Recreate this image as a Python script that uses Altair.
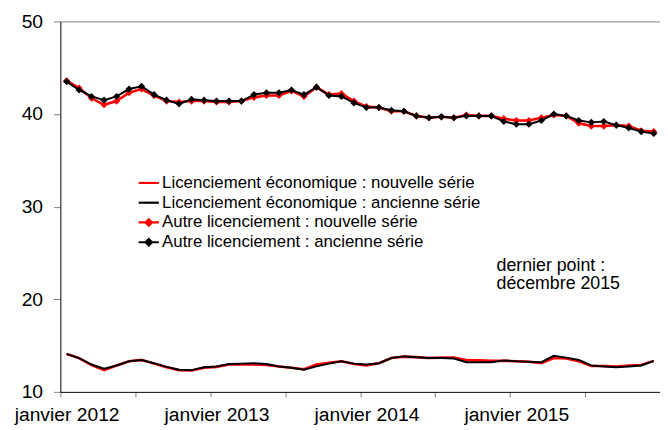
import json
import altair as alt
import pandas as pd

# ---- data ----
mois_noms = ["janvier", "février", "mars", "avril", "mai", "juin", "juillet",
             "août", "septembre", "octobre", "novembre", "décembre"]
annees = [2012, 2013, 2014, 2015]
mois = [f"{m} {a}" for a in annees for m in mois_noms]  # 48 months

series = [
    "Licenciement économique : nouvelle série",
    "Licenciement économique : ancienne série",
    "Autre licenciement : nouvelle série",
    "Autre licenciement : ancienne série",
]
couleurs = ["#ff0000", "#000000", "#ff0000", "#000000"]

eco_nouvelle = [14.1, 13.65, 12.9, 12.35, 12.85, 13.3, 13.45, 13.05, 12.65, 12.35, 12.3, 12.6,
                12.7, 12.95, 12.95, 12.95, 12.9, 12.75, 12.6, 12.45, 12.95, 13.15, 13.3, 13.0,
                12.85, 13.1, 13.65, 13.8, 13.75, 13.65, 13.7, 13.7, 13.45, 13.4, 13.35, 13.35,
                13.3, 13.25, 13.1, 13.65, 13.6, 13.3, 12.8, 12.8, 12.75, 12.85, 12.9, 13.35]
eco_ancienne = [14.1, 13.65, 12.95, 12.5, 12.85, 13.3, 13.45, 13.1, 12.7, 12.4, 12.35, 12.65,
                12.75, 13.0, 13.05, 13.1, 13.0, 12.75, 12.6, 12.4, 12.75, 13.05, 13.3, 13.05,
                12.95, 13.1, 13.65, 13.85, 13.75, 13.65, 13.65, 13.6, 13.2, 13.2, 13.2, 13.4,
                13.3, 13.25, 13.2, 13.9, 13.7, 13.45, 12.85, 12.75, 12.65, 12.75, 12.85, 13.35]
autre_nouvelle = [43.6, 42.8, 41.7, 41.0, 41.4, 42.3, 42.7, 42.0, 41.4, 41.3, 41.4, 41.4,
                  41.3, 41.3, 41.4, 41.8, 42.0, 42.0, 42.5, 41.9, 42.9, 42.1, 42.2, 41.4,
                  40.8, 40.7, 40.3, 40.3, 39.8, 39.6, 39.7, 39.6, 39.9, 39.8, 39.8, 39.5,
                  39.3, 39.3, 39.6, 39.9, 39.8, 39.0, 38.7, 38.7, 38.8, 38.7, 38.2, 38.1]
autre_ancienne = [43.5, 42.6, 41.9, 41.5, 41.9, 42.7, 43.0, 42.1, 41.5, 41.1, 41.6, 41.5,
                  41.4, 41.4, 41.4, 42.1, 42.3, 42.3, 42.6, 42.1, 42.9, 42.0, 41.9, 41.2,
                  40.7, 40.7, 40.4, 40.3, 39.8, 39.6, 39.7, 39.6, 39.8, 39.8, 39.8, 39.2,
                  38.9, 38.9, 39.3, 40.0, 39.8, 39.3, 39.1, 39.2, 38.8, 38.5, 38.1, 37.9]

y_ticks = [10, 20, 30, 40, 50]
annotation = ["dernier point :", "décembre 2015"]

# ---- table ----
rows = []
for nom, vals in zip(series, [eco_nouvelle, eco_ancienne, autre_nouvelle, autre_ancienne]):
    for i, v in enumerate(vals):
        rows.append({"i": i, "mois": mois[i], "serie": nom, "valeur": v})
df = pd.DataFrame(rows)

FONT = "Liberation Sans"
n = len(mois)

label_pos = [i for i, m in enumerate(mois) if m.startswith("janvier")]
label_txt = [mois[i] for i in label_pos]
bounds = [k - 0.5 for k in range(0, n + 1, 6)]
x_values = sorted(bounds + label_pos)
label_expr = ("indexof({p}, datum.value) >= 0 ? {t}[indexof({p}, datum.value)] : ''"
              .format(p=json.dumps(label_pos), t=json.dumps(label_txt, ensure_ascii=False)))

x_enc = alt.X(
    "i:Q",
    title=None,
    scale=alt.Scale(domain=[-0.5, n - 0.5], nice=False, zero=False),
    axis=alt.Axis(
        values=x_values, labelExpr=label_expr, labelOverlap=False, labelFlush=False,
        grid=False, domainColor="#000000", domainWidth=1,
        tickColor="#808080", tickSize=5, tickWidth=1,
        tickOpacity={"condition": {"test": "datum.value % 1 === 0", "value": 0}, "value": 1},
        labelFontSize=19.5, labelFont=FONT, labelColor="#000000", labelPadding=9,
    ),
)
y_enc = alt.Y(
    "valeur:Q",
    title=None,
    scale=alt.Scale(domain=[10, 50], nice=False, zero=False),
    axis=alt.Axis(
        values=y_ticks, format="d", grid=True, gridColor="#808080", gridWidth=1,
        gridOpacity={"condition": {"test": "datum.value === 50", "value": 1}, "value": 0},
        domainColor="#000000", domainWidth=1,
        tickColor="#808080", tickSize=7, tickWidth=1,
        labelFontSize=19.5, labelFont=FONT, labelColor="#000000", labelPadding=11,
    ),
)

base = alt.Chart(df).encode(x=x_enc, y=y_enc)

red_lines = base.transform_filter(
    alt.FieldOneOfPredicate(field="serie", oneOf=[series[0], series[2]])
).mark_line(strokeWidth=2.6, color=couleurs[0]).encode(detail="serie:N")
red_pts = base.transform_filter(
    alt.FieldEqualPredicate(field="serie", equal=series[2])
).mark_square(angle=45, size=26, opacity=1, color=couleurs[2])
black_lines = base.transform_filter(
    alt.FieldOneOfPredicate(field="serie", oneOf=[series[1], series[3]])
).mark_line(strokeWidth=2.0, color=couleurs[1]).encode(detail="serie:N")
black_pts = base.transform_filter(
    alt.FieldEqualPredicate(field="serie", equal=series[3])
).mark_square(angle=45, size=26, opacity=1, color=couleurs[3])

diamond_line = ("M-1,0L-0.32,0L0,-0.32L0.32,0L1,0L0.32,0L0,0.32L-0.32,0Z"
                "M0,-0.3L0,0.3M-0.16,-0.16L0.16,0.16M-0.16,0.16L0.16,-0.16")
legend_layer = base.transform_filter("false").mark_point(filled=False, opacity=1).encode(
    color=alt.Color(
        "serie:N",
        scale=alt.Scale(domain=series, range=couleurs),
        legend=alt.Legend(
            orient="none", legendX=78, legendY=152, title=None,
            symbolSize=420, symbolStrokeWidth=2.2, labelFontSize=17, labelFont=FONT,
            labelColor="#000000", labelOffset=2, rowPadding=0, padding=0, labelLimit=600,
        ),
    ),
    shape=alt.Shape(
        "serie:N",
        scale=alt.Scale(domain=series, range=["stroke", "stroke", diamond_line, diamond_line]),
        legend=alt.Legend(
            orient="none", legendX=78, legendY=152, title=None,
            symbolSize=420, symbolStrokeWidth=2.2, labelFontSize=17, labelFont=FONT,
            labelColor="#000000", labelOffset=2, rowPadding=0, padding=0, labelLimit=600,
        ),
    ),
)

note = alt.Chart(alt.Data(values=[{}])).mark_text(
    text=annotation, align="left", baseline="alphabetic", fontSize=18, font=FONT,
    lineHeight=18.5, color="#000000",
).encode(x=alt.value(441.5), y=alt.value(252.7))

chart = alt.layer(red_lines, red_pts, black_lines, black_pts, legend_layer, note).properties(
    width=607, height=375,
    autosize="none",
    padding={"left": 53, "top": 11, "right": 0, "bottom": 36},
    background="#ffffff",
).configure_view(stroke=None)

chart.save("out.html", embed_options={"renderer": "svg", "actions": False})
